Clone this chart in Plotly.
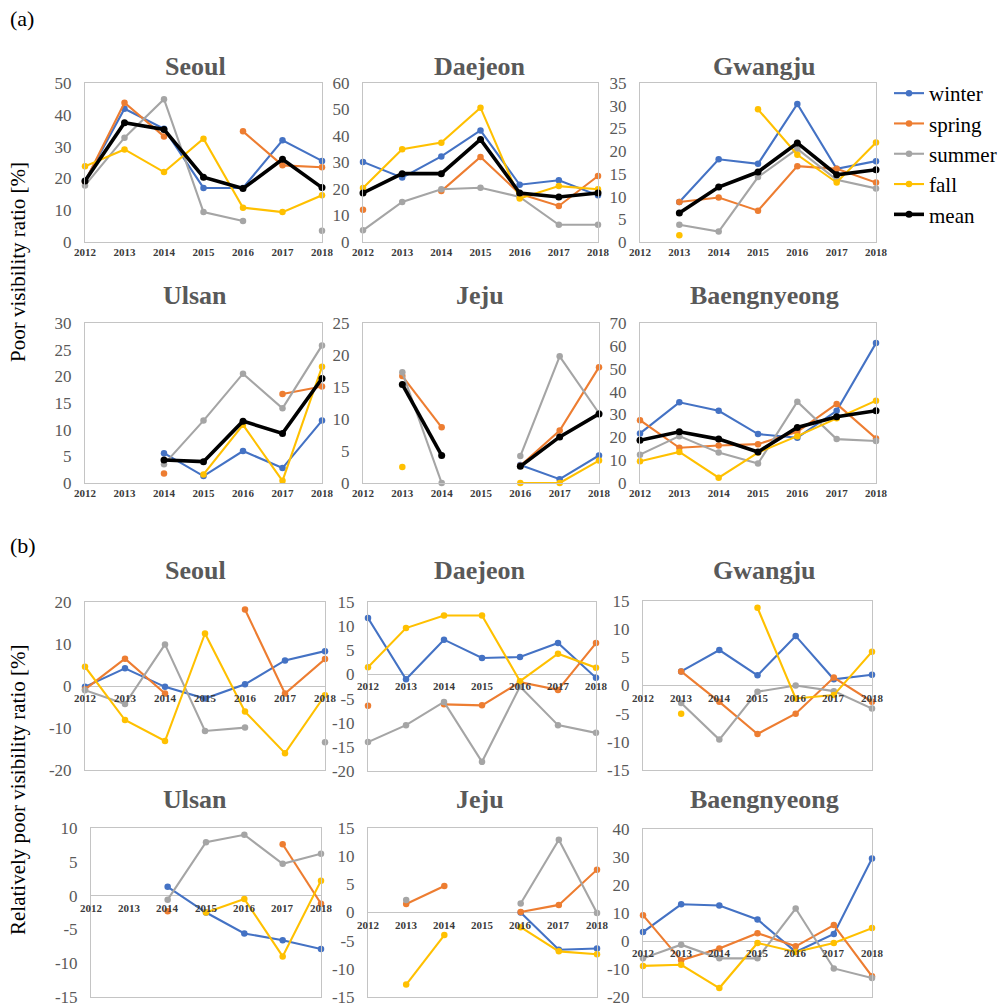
import plotly.graph_objects as go

W, H = 998, 1008
N = None

years = [2012, 2013, 2014, 2015, 2016, 2017, 2018]
seasons = ["winter", "spring", "summer", "fall", "mean"]
colors = {
    "winter": "#4472C4",
    "spring": "#ED7D31",
    "summer": "#A5A5A5",
    "fall": "#FFC000",
    "mean": "#000000",
}

# (a) poor visibility ratio [%]
seoul_a = {
    "winter": [19.2, 41.9, 35.6, 17.0, 17.0, 32.0, 25.5],
    "spring": [18.9, 43.8, 33.2, N, 34.8, 24.1, 23.5],
    "summer": [17.8, 32.8, 44.9, 9.4, 6.6, N, 3.5],
    "fall": [23.8, 29.1, 22.0, 32.5, 10.8, 9.4, 14.7],
    "mean": [19.2, 37.5, 35.4, 20.4, 16.8, 26.0, 17.1],
}
daejeon_a = {
    "winter": [30.2, 24.3, 32.3, 42.1, 21.6, 23.3, 17.6],
    "spring": [12.2, N, 19.2, 32.1, 18.2, 13.6, 24.9],
    "summer": [4.4, 15.1, 19.9, 20.5, 17.0, 6.5, 6.5],
    "fall": [20.4, 35.0, 37.5, 50.7, 16.4, 21.1, 19.9],
    "mean": [18.5, 25.8, 25.8, 38.7, 18.5, 17.0, 18.5],
}
gwangju_a = {
    "winter": [N, 8.8, 18.2, 17.2, 30.4, 16.1, 17.8],
    "spring": [N, 8.8, 9.8, 6.9, 16.7, 16.1, 13.1],
    "summer": [N, 3.8, 2.3, 14.3, 20.5, 13.7, 11.8],
    "fall": [N, 1.5, N, 29.2, 19.2, 13.1, 21.9],
    "mean": [N, 6.4, 12.1, 15.4, 21.8, 14.8, 15.9],
}
ulsan_a = {
    "winter": [N, N, 5.6, 1.3, 6.0, 2.8, 11.7],
    "spring": [N, N, 1.8, N, N, 16.7, 18.1],
    "summer": [N, N, 3.5, 11.7, 20.5, 14.0, 25.8],
    "fall": [N, N, N, 1.6, 10.9, 0.4, 21.8],
    "mean": [N, N, 4.3, 4.0, 11.6, 9.3, 19.6],
}
jeju_a = {
    "winter": [N, N, N, N, 2.8, 0.6, 4.3],
    "spring": [N, 16.7, 8.7, N, 2.7, 8.2, 18.1],
    "summer": [N, 17.3, 0.0, N, 4.2, 19.8, 10.9],
    "fall": [N, 2.5, N, N, 0.0, 0.0, 3.5],
    "mean": [N, 15.4, 4.3, N, 2.6, 7.2, 10.8],
}
baengnyeong_a = {
    "winter": [21.7, 35.3, 31.6, 21.4, 19.8, 31.6, 61.2],
    "spring": [27.5, 15.4, 16.4, 17.0, 22.4, 34.6, 19.5],
    "summer": [12.4, 20.5, 13.3, 8.5, 35.6, 19.2, 18.4],
    "fall": [9.5, 13.6, 2.3, 13.3, 20.5, 28.3, 36.0],
    "mean": [18.7, 22.4, 19.2, 13.6, 24.3, 29.0, 31.6],
}

# (b) relatively poor visibility ratio [%]
seoul_b = {
    "winter": [-0.2, 4.2, -0.2, -3.0, 0.4, 6.1, 8.3],
    "spring": [-0.8, 6.5, -1.8, N, 18.2, -1.8, 6.4],
    "summer": [-1.0, -4.3, 9.9, -10.7, -9.9, N, -13.4],
    "fall": [4.6, -8.1, -13.1, 12.5, -6.1, -16.0, -2.2],
}
daejeon_b = {
    "winter": [11.7, -1.0, 7.2, 3.4, 3.6, 6.5, -0.7],
    "spring": [-6.5, N, -6.2, -6.4, -1.6, -3.2, 6.5],
    "summer": [-14.0, -10.5, -5.7, -18.1, -2.5, -10.5, -12.1],
    "fall": [1.5, 9.6, 12.2, 12.2, -1.4, 4.3, 1.4],
}
gwangju_b = {
    "winter": [N, 2.5, 6.3, 1.8, 8.8, 1.1, 1.9],
    "spring": [N, 2.5, -2.9, -8.6, -5.0, 1.4, -2.9],
    "summer": [N, -3.1, -9.6, -1.1, 0.0, -1.0, -4.1],
    "fall": [N, -5.0, N, 13.8, -2.3, -1.7, 6.0],
}
ulsan_b = {
    "winter": [N, N, 1.3, -2.5, -5.6, -6.6, -7.9],
    "spring": [N, N, -2.3, N, N, 7.6, -1.2],
    "summer": [N, N, -0.6, 7.9, 9.0, 4.7, 6.2],
    "fall": [N, N, N, -2.5, -0.5, -9.0, 2.2],
}
jeju_b = {
    "winter": [N, N, N, N, 0.0, -6.6, -6.4],
    "spring": [N, 1.5, 4.7, N, 0.1, 1.35, 7.6],
    "summer": [N, 2.2, N, N, 1.6, 12.9, -0.1],
    "fall": [N, -12.8, -4.0, N, -2.6, -6.9, -7.4],
}
baengnyeong_b = {
    "winter": [3.2, 13.1, 12.7, 7.7, -3.9, 2.5, 29.5],
    "spring": [9.2, -6.9, -2.7, 2.8, -1.9, 5.7, -12.6],
    "summer": [-6.2, -1.3, -6.2, -6.2, 11.6, -9.8, -13.2],
    "fall": [-8.9, -8.5, -16.8, -0.7, -3.9, -0.7, 4.6],
}

# name, data, plot box in px (left, right, top, bottom), y range, y step, part
panels = [
    ("Seoul", seoul_a, (85, 322, 83, 242), (0, 50), 10, "a"),
    ("Daejeon", daejeon_a, (363, 598, 83, 242), (0, 60), 10, "a"),
    ("Gwangju", gwangju_a, (640, 876, 83, 242), (0, 35), 5, "a"),
    ("Ulsan", ulsan_a, (85, 322, 323, 483), (0, 30), 5, "a"),
    ("Jeju", jeju_a, (363, 599, 323, 483), (0, 25), 5, "a"),
    ("Baengnyeong", baengnyeong_a, (640, 876, 323, 483), (0, 70), 10, "a"),
    ("Seoul", seoul_b, (85, 325, 602, 770), (-20, 20), 10, "b"),
    ("Daejeon", daejeon_b, (368, 596, 602, 771), (-20, 15), 5, "b"),
    ("Gwangju", gwangju_b, (643, 872, 601, 770), (-15, 15), 5, "b"),
    ("Ulsan", ulsan_b, (91, 321, 828, 997), (-15, 10), 5, "b"),
    ("Jeju", jeju_b, (368, 597, 828, 997), (-15, 15), 5, "b"),
    ("Baengnyeong", baengnyeong_b, (643, 872, 829, 997), (-20, 40), 10, "b"),
]
title_x = [195, 480, 764]
title_y = {("a", 0): 67, ("a", 1): 295, ("b", 0): 570, ("b", 1): 799}

SERIF = '"Liberation Serif", "Times New Roman", Times, serif'
FRAME = "#C4C4C4"
TICK_GREY = "#595959"


def tick_values(lo, hi, step):
    vals = list(range(lo, hi + 1, step))
    # plain hyphen-minus for negative tick labels
    return vals, [str(v) for v in vals]


fig = go.Figure()
layout = dict(
    width=W,
    height=H,
    margin=dict(l=0, r=0, t=0, b=0, pad=0, autoexpand=False),
    paper_bgcolor="white",
    plot_bgcolor="white",
    font=dict(family=SERIF, color="#000000"),
    showlegend=True,
    legend=dict(
        x=889 / W, y=1 - 73 / H, xanchor="left", yanchor="top",
        font=dict(family=SERIF, size=21, color="#000000"),
        bgcolor="rgba(0,0,0,0)", tracegroupgap=0, itemwidth=30,
    ),
)
annotations = []

for i, (name, data, box, yr, step, part) in enumerate(panels):
    k = i + 1
    xa = "xaxis" if k == 1 else f"xaxis{k}"
    ya = "yaxis" if k == 1 else f"yaxis{k}"
    xref = "x" if k == 1 else f"x{k}"
    yref = "y" if k == 1 else f"y{k}"
    x0, x1, y0, y1 = box
    tv, tt = tick_values(yr[0], yr[1], step)
    layout[xa] = dict(
        domain=[x0 / W, x1 / W], range=[2012, 2018], anchor=yref,
        tickmode="array", tickvals=years, ticktext=[str(y) for y in years],
        showticklabels=(part == "a"), ticks="", automargin=False,
        tickfont=dict(family=SERIF, size=11, color="#3A3A3A", weight="bold"),
        showline=True, mirror=True, linecolor=FRAME, linewidth=1,
        showgrid=False, zeroline=False, fixedrange=True,
    )
    layout[ya] = dict(
        domain=[1 - y1 / H, 1 - y0 / H], range=list(yr), anchor=xref,
        tickmode="array", tickvals=tv, ticktext=tt, automargin=False,
        ticks="outside", ticklen=9, tickcolor="rgba(0,0,0,0)",
        tickfont=dict(family=SERIF, size=17, color=TICK_GREY),
        showline=True, mirror=True, linecolor=FRAME, linewidth=1,
        showgrid=False, zeroline=(part == "b"), zerolinecolor=FRAME,
        zerolinewidth=1, fixedrange=True,
    )
    for s in seasons:
        if s not in data:
            continue
        is_mean = s == "mean"
        fig.add_trace(go.Scatter(
            x=years, y=data[s], name=s, mode="lines+markers",
            line=dict(color=colors[s], width=3.6 if is_mean else 2.1),
            marker=dict(color=colors[s], size=7 if is_mean else 6.5, symbol="circle"),
            connectgaps=False, cliponaxis=False,
            xaxis=xref, yaxis=yref, showlegend=(k == 1), legendgroup=s,
        ))
    if part == "b":
        for yv in years:
            annotations.append(dict(
                x=yv, y=0, xref=xref, yref=yref, text=str(yv), showarrow=False,
                yanchor="top", yshift=-4,
                font=dict(family=SERIF, size=11, color="#3A3A3A", weight="bold"),
            ))
    col = i % 3
    row = (i % 6) // 3
    annotations.append(dict(
        x=title_x[col] / W, y=1 - title_y[(part, row)] / H, xref="paper", yref="paper",
        text=f"<b>{name}</b>", showarrow=False, xanchor="center", yanchor="middle",
        font=dict(family=SERIF, size=26, color=TICK_GREY),
    ))

annotations += [
    dict(x=8 / W, y=1 - 18 / H, xref="paper", yref="paper", text="(a)", showarrow=False,
         xanchor="left", yanchor="middle", font=dict(family=SERIF, size=22, color="#000000")),
    dict(x=8 / W, y=1 - 545 / H, xref="paper", yref="paper", text="(b)", showarrow=False,
         xanchor="left", yanchor="middle", font=dict(family=SERIF, size=22, color="#000000")),
    dict(x=18 / W, y=1 - 262 / H, xref="paper", yref="paper", text="Poor visibility ratio [%]",
         showarrow=False, textangle=-90, xanchor="center", yanchor="middle",
         font=dict(family=SERIF, size=21, color="#000000")),
    dict(x=18 / W, y=1 - 790 / H, xref="paper", yref="paper",
         text="Relatively poor visibility ratio [%]",
         showarrow=False, textangle=-90, xanchor="center", yanchor="middle",
         font=dict(family=SERIF, size=21, color="#000000")),
]
layout["annotations"] = annotations
fig.update_layout(**layout)
fig.write_html(
    "out.html",
    config={"responsive": False},
    post_script="document.body.style.margin='0';document.body.style.overflow='hidden';",
)
